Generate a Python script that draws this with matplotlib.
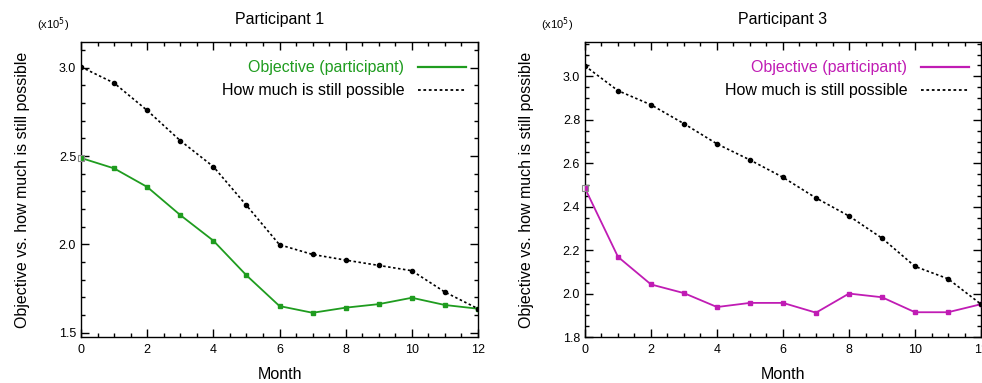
"""Objective vs. how much is still possible, two participants."""

import matplotlib
matplotlib.use('Agg')
from matplotlib import pyplot as plt
from matplotlib.ticker import MultipleLocator, FormatStrFormatter


months = list(range(13))

# participant 1 (units of 1e5)
p1_objective = [2.489, 2.430, 2.325, 2.166, 2.021, 1.825, 1.651,
                1.613, 1.642, 1.662, 1.698, 1.657, 1.636]
p1_possible = [3.004, 2.913, 2.758, 2.587, 2.440, 2.221, 1.998,
               1.943, 1.911, 1.881, 1.851, 1.730, 1.636]

# participant 3
p3_objective = [2.485, 2.169, 2.042, 2.002, 1.938, 1.957, 1.957,
                1.912, 2.000, 1.983, 1.914, 1.914, 1.951]
p3_possible = [3.048, 2.934, 2.869, 2.782, 2.689, 2.615, 2.535,
               2.440, 2.357, 2.255, 2.125, 2.068, 1.951]

labels = ['Objective (participant)', 'How much is still possible']

GREEN = '#1f9c1f'
MAGENTA = '#c01cb4'
DOTTED = (0, (1.5, 1.5))

plt.rcParams['font.family'] = ['Liberation Sans', 'DejaVu Sans']


def draw_key(ax, color):
    # gnuplot-like key: right aligned text, sample line to its right
    rows = [(0.915, color, '-', 1.6), (0.837, 'black', DOTTED, 1.3)]
    for label, (y, c, ls, lw) in zip(labels, rows):
        ax.text(0.814, y, label, transform=ax.transAxes, ha='right',
                va='center', fontsize=11.5, color=c)
        ax.plot([0.849, 0.970], [y, y], transform=ax.transAxes, color=c,
                ls=ls, lw=lw, clip_on=False)


def draw_panel(ax, title, objective, possible, color, ylim, ymajor, yminor):
    ax.plot(months, objective, color=color, lw=1.3, marker='s', ms=3,
            zorder=3)
    ax.plot(months, possible, color='black', lw=1.2, ls=DOTTED,
            marker='o', ms=3, zorder=3)
    # gnuplot-style start marker
    ax.plot([months[0]], [objective[0]], marker='s', ms=5, mfc='none',
            mec='#888888', mew=0.8, ls='none', clip_on=False, zorder=4)

    ax.set_xlim(0, 12)
    ax.set_ylim(*ylim)
    ax.xaxis.set_major_locator(MultipleLocator(2))
    ax.xaxis.set_minor_locator(MultipleLocator(0.5))
    ax.yaxis.set_major_locator(MultipleLocator(ymajor))
    ax.yaxis.set_minor_locator(MultipleLocator(yminor))
    ax.yaxis.set_major_formatter(FormatStrFormatter('%.1f'))
    ax.tick_params(which='both', direction='in', top=True, right=True,
                   labelsize=9, colors='black')
    ax.tick_params(which='major', length=6, width=1)
    ax.tick_params(which='minor', length=3, width=1)
    ax.tick_params(axis='x', pad=5)
    for spine in ax.spines.values():
        spine.set_linewidth(1)

    ax.set_title(title, fontsize=11.5, pad=13)
    ax.set_xlabel('Month', fontsize=11.5, labelpad=8)
    ax.set_ylabel('Objective vs. how much is still possible', fontsize=11.5,
                  labelpad=21)
    ax.text(-0.11, 1.058, r'(x10$^5$)', transform=ax.transAxes, fontsize=8,
            ha='left', va='center')

    draw_key(ax, color)


fig = plt.figure(figsize=(9.82, 3.83), dpi=100)
ax1 = fig.add_axes([0.0825, 0.1201, 0.4043, 0.7702])
ax2 = fig.add_axes([0.5957, 0.1201, 0.4033, 0.7702])

draw_panel(ax1, 'Participant 1', p1_objective, p1_possible, GREEN,
           (1.476, 3.145), 0.5, 0.1)
draw_panel(ax2, 'Participant 3', p3_objective, p3_possible, MAGENTA,
           (1.8, 3.158), 0.2, 0.05)

fig.savefig('out.png', dpi=100)
